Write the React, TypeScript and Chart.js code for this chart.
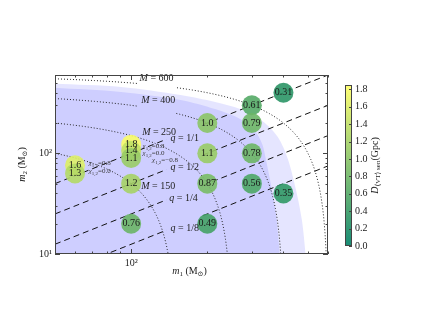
import React, { useEffect, useRef } from "react";
import { Chart, registerables } from "chart.js";

Chart.register(...registerables);

const SERIF = '"Liberation Serif", "DejaVu Serif", serif';

// Simulated systems: primary mass, secondary mass, horizon distance (Gpc)
const pointM1 = [400, 300, 200, 300, 100, 100, 100, 200, 300, 60, 60, 100, 200, 300, 400, 100, 200];
const pointM2 = [400, 300, 200, 200, 122, 106, 90, 100, 100, 76, 63, 50, 50, 50, 40, 20, 20];
const pointDistance = [0.31, 0.61, 1.0, 0.79, 1.8, 1.4, 1.1, 1.1, 0.78, 1.6, 1.3, 1.2, 0.87, 0.56, 0.35, 0.76, 0.49];
const pointLabels = ["0.31", "0.61", "1.0", "0.79", "1.8", "1.4", "1.1", "1.1", "0.78", "1.6", "1.3", "1.2", "0.87", "0.56", "0.35", "0.76", "0.49"];

// Spin annotations
const spinValues = ["0.8", "0.0", "\u22120.8", "0.8", "0.0"];
const spinM1 = [111, 111, 121, 68, 68];
const spinM2 = [117, 100, 85, 79, 66];

// Shaded sensitivity regions (boundaries)
const outerM1 = [50, 91.4, 157, 215, 270, 330, 380, 417, 448, 473, 490];
const outerM2 = [490, 457, 380, 324, 275, 209, 145, 87, 43.7, 21.9, 9.8];
const innerM1 = [50, 91.4, 157, 215, 270, 309, 330, 341, 357, 374, 387];
const innerM2 = [447, 407, 339, 275, 219, 166, 123, 87, 49, 24.5, 9.8];

// Guide curves
const qRatios = [1, 1 / 2, 1 / 4, 1 / 8];
const totalMasses = [600, 400, 250, 150];
const massCurveBroken = [true, true, false, false];
const qGap = [138, 192];
const massGap = [107, 150];

const guideLabelVar = ["M", "M", "M", "M", "q", "q", "q", "q"];
const guideLabelVal = ["600", "400", "250", "150", "1/1", "1/2", "1/4", "1/8"];
const guideLabelM1 = [126, 128, 129, 128, 163, 163, 161, 163];
const guideLabelM2 = [555, 339, 162, 47, 141, 72, 35.5, 17.8];

// Axes
const X_MIN = 50, X_MAX = 600, Y_MIN = 10, Y_MAX = 600;
const CB_MIN = 0, CB_MAX = 1.85;
const colorbarTicks = [0, 0.2, 0.4, 0.6, 0.8, 1.0, 1.2, 1.4, 1.6, 1.8];

function summer(v: number, alpha: number) {
  let t = (v - CB_MIN) / (CB_MAX - CB_MIN);
  t = Math.max(0, Math.min(1, t));
  return `rgba(${Math.round(255 * t)},${Math.round(255 * (0.5 + 0.5 * t))},102,${alpha})`;
}

type Seg = { t: string; italic?: boolean; sub?: boolean };

function drawRich(ctx: CanvasRenderingContext2D, segs: Seg[], x: number, y: number, size: number, align: "left" | "center") {
  const parts = segs.map((s) => {
    const fs = s.sub ? size * 0.7 : size;
    const font = `${s.italic ? "italic " : ""}${fs}px ${SERIF}`;
    ctx.font = font;
    return { s, font, w: ctx.measureText(s.t).width, dy: s.sub ? size * 0.28 : 0 };
  });
  const total = parts.reduce((a, p) => a + p.w, 0);
  let cx = align === "center" ? x - total / 2 : x;
  ctx.textAlign = "left";
  ctx.textBaseline = "middle";
  for (const p of parts) {
    ctx.font = p.font;
    ctx.fillText(p.s.t, cx, y + p.dy);
    cx += p.w;
  }
}

function logTicks(min: number, max: number) {
  const major: number[] = [];
  const minor: number[] = [];
  for (let e = -1; e < 5; e++) {
    const base = Math.pow(10, e);
    for (let k = 1; k < 10; k++) {
      const v = k * base;
      if (v < min - 1e-9 || v > max + 1e-9) continue;
      (k === 1 ? major : minor).push(v);
    }
  }
  return { major, minor };
}

function massCurve(M: number, broken: boolean) {
  const pts: { x: number; y: number | null }[] = [];
  const n = 70;
  const hi = M - 8;
  for (let i = 0; i < n; i++) {
    const m1 = X_MIN * Math.pow(hi / X_MIN, i / (n - 1));
    pts.push({ x: m1, y: M - m1 });
  }
  for (let i = 0; i < n; i++) {
    const m2 = 8 * Math.pow((M - X_MIN) / 8, i / (n - 1));
    pts.push({ x: M - m2, y: m2 });
  }
  pts.sort((a, b) => a.x - b.x);
  if (!broken) return pts;
  const out: { x: number; y: number | null }[] = [];
  let inserted = false;
  for (const p of pts) {
    if (p.x > massGap[0] && p.x < massGap[1]) {
      if (!inserted) {
        out.push({ x: (massGap[0] + massGap[1]) / 2, y: null });
        inserted = true;
      }
      continue;
    }
    out.push(p);
  }
  return out;
}

function qLine(q: number) {
  return [
    { x: X_MIN, y: X_MIN * q },
    { x: qGap[0], y: qGap[0] * q },
    { x: (qGap[0] + qGap[1]) / 2, y: null },
    { x: qGap[1], y: qGap[1] * q },
    { x: X_MAX, y: X_MAX * q },
  ];
}

const overlayPlugin = {
  id: "overlay",
  afterDatasetsDraw(chart: any) {
    const ctx: CanvasRenderingContext2D = chart.ctx;
    const xs = chart.scales.x;
    const ys = chart.scales.y;
    const area = chart.chartArea;

    // circle labels
    const meta = chart.getDatasetMeta(0);
    ctx.save();
    ctx.fillStyle = "#1a1a1a";
    meta.data.forEach((el: any, i: number) => {
      drawRich(ctx, [{ t: pointLabels[i] }], el.x, el.y, 10, "center");
    });

    // spin labels
    ctx.fillStyle = "#333";
    spinValues.forEach((s, i) => {
      const px = xs.getPixelForValue(spinM1[i]);
      const py = ys.getPixelForValue(spinM2[i]);
      drawRich(ctx, [{ t: "\u03c7", italic: true }, { t: "1,2", sub: true }, { t: "=" + s }], px, py, 7, "left");
    });

    // guide labels
    ctx.fillStyle = "#222";
    guideLabelVar.forEach((v, i) => {
      const px = xs.getPixelForValue(guideLabelM1[i]);
      const py = ys.getPixelForValue(guideLabelM2[i]);
      drawRich(ctx, [{ t: v, italic: true }, { t: " = " + guideLabelVal[i] }], px, py, 10, "center");
    });

    // frame
    ctx.strokeStyle = "#444";
    ctx.lineWidth = 1;
    ctx.strokeRect(Math.round(area.left) + 0.5, Math.round(area.top) + 0.5, Math.round(area.right - area.left) - 1, Math.round(area.bottom - area.top) - 1);

    // inward ticks
    const xt = logTicks(X_MIN, X_MAX);
    const yt = logTicks(Y_MIN, Y_MAX);
    ctx.beginPath();
    const addX = (vals: number[], len: number) => {
      vals.forEach((v) => {
        const px = Math.round(xs.getPixelForValue(v)) + 0.5;
        ctx.moveTo(px, area.bottom);
        ctx.lineTo(px, area.bottom - len);
        ctx.moveTo(px, area.top);
        ctx.lineTo(px, area.top + len);
      });
    };
    const addY = (vals: number[], len: number) => {
      vals.forEach((v) => {
        const py = Math.round(ys.getPixelForValue(v)) + 0.5;
        ctx.moveTo(area.left, py);
        ctx.lineTo(area.left + len, py);
        ctx.moveTo(area.right, py);
        ctx.lineTo(area.right - len, py);
      });
    };
    addX(xt.major, 5);
    addX(xt.minor, 2.5);
    addY(yt.major, 5);
    addY(yt.minor, 2.5);
    ctx.stroke();

    // axis titles
    ctx.fillStyle = "#222";
    drawRich(ctx, [{ t: "m", italic: true }, { t: "1", sub: true }, { t: " (M" }, { t: "\u2299", sub: true }, { t: ")" }], (area.left + area.right) / 2 - 2, 271, 10, "center");
    ctx.save();
    ctx.translate(22, (area.top + area.bottom) / 2);
    ctx.rotate(-Math.PI / 2);
    drawRich(ctx, [{ t: "m", italic: true }, { t: "2", sub: true }, { t: " (M" }, { t: "\u2299", sub: true }, { t: ")" }], 0, 0, 10, "center");
    ctx.restore();

    // colorbar
    const cbL = 345, cbW = 7, cbT = 85, cbB = 246;
    const grad = ctx.createLinearGradient(0, cbB, 0, cbT);
    for (let i = 0; i <= 10; i++) {
      const v = CB_MIN + ((CB_MAX - CB_MIN) * i) / 10;
      grad.addColorStop(i / 10, summer(v, 0.9));
    }
    ctx.fillStyle = grad;
    ctx.fillRect(cbL, cbT, cbW, cbB - cbT);
    ctx.strokeStyle = "#444";
    ctx.strokeRect(cbL + 0.5, cbT + 0.5, cbW - 1, cbB - cbT - 1);
    ctx.fillStyle = "#222";
    ctx.beginPath();
    colorbarTicks.forEach((v) => {
      const py = cbB - ((v - CB_MIN) / (CB_MAX - CB_MIN)) * (cbB - cbT);
      const ry = Math.round(py) + 0.5;
      ctx.moveTo(cbL + cbW - 3, ry);
      ctx.lineTo(cbL + cbW, ry);
      drawRich(ctx, [{ t: v.toFixed(1) }], cbL + cbW + 3, py, 10, "left");
    });
    ctx.stroke();
    ctx.save();
    ctx.translate(375, (cbT + cbB) / 2);
    ctx.rotate(-Math.PI / 2);
    drawRich(ctx, [{ t: "D", italic: true }, { t: "\u27e8VT\u27e9 sen", sub: true }, { t: "(Gpc)" }], 0, 0, 10, "center");
    ctx.restore();

    ctx.restore();
  },
};

export default function App() {
  const canvasRef = useRef<HTMLCanvasElement | null>(null);

  useEffect(() => {
    const canvas = canvasRef.current;
    if (!canvas) return;

    const circleData = pointM1.map((m1, i) => ({ x: m1, y: pointM2[i] }));
    const circleColors = pointDistance.map((d) => summer(d, 0.9));

    const lineDatasets: any[] = [];
    qRatios.forEach((q) => {
      lineDatasets.push({
        type: "line",
        data: qLine(q),
        borderColor: "#111",
        borderWidth: 1,
        borderDash: [6, 4],
        pointRadius: 0,
        fill: false,
        tension: 0,
        spanGaps: false,
        order: 1,
      });
    });
    totalMasses.forEach((M, i) => {
      lineDatasets.push({
        type: "line",
        data: massCurve(M, massCurveBroken[i]),
        borderColor: "#222",
        borderWidth: 1,
        borderDash: [1, 2],
        pointRadius: 0,
        fill: false,
        tension: 0,
        spanGaps: false,
        order: 1,
      });
    });

    const chart = new Chart(canvas, {
      type: "scatter",
      data: {
        datasets: [
          {
            type: "scatter",
            data: circleData,
            backgroundColor: circleColors,
            borderWidth: 0,
            pointRadius: 10,
            pointHoverRadius: 10,
            order: 0,
          } as any,
          ...lineDatasets,
          {
            type: "line",
            data: innerM1.map((m, i) => ({ x: m, y: innerM2[i] })),
            borderWidth: 0,
            borderColor: "rgba(0,0,0,0)",
            backgroundColor: "rgba(0,0,255,0.1)",
            pointRadius: 0,
            fill: "start",
            tension: 0.3,
            order: 2,
          },
          {
            type: "line",
            data: outerM1.map((m, i) => ({ x: m, y: outerM2[i] })),
            borderWidth: 0,
            borderColor: "rgba(0,0,0,0)",
            backgroundColor: "rgba(0,0,255,0.1)",
            pointRadius: 0,
            fill: "start",
            tension: 0.3,
            order: 3,
          },
        ],
      },
      options: {
        animation: false,
        responsive: false,
        events: [],
        layout: { padding: { left: 10, top: 75, right: 112, bottom: 56 } },
        plugins: { legend: { display: false }, tooltip: { enabled: false } },
        scales: {
          x: {
            type: "logarithmic",
            min: X_MIN,
            max: X_MAX,
            grid: { display: false, drawTicks: false },
            border: { display: false },
            ticks: {
              autoSkip: false,
              maxRotation: 0,
              padding: 3,
              color: "#222",
              font: { family: SERIF, size: 10 },
              callback: (v: any) => (Math.round(Number(v)) === 100 ? "10\u00b2" : ""),
            },
            afterFit: (s: any) => {
              s.height = 20;
            },
          },
          y: {
            type: "logarithmic",
            min: Y_MIN,
            max: Y_MAX,
            grid: { display: false, drawTicks: false },
            border: { display: false },
            ticks: {
              autoSkip: false,
              padding: 3,
              color: "#222",
              font: { family: SERIF, size: 10 },
              callback: (v: any) => {
                const r = Math.round(Number(v));
                if (r === 10) return "10\u00b9";
                if (r === 100) return "10\u00b2";
                return "";
              },
            },
            afterFit: (s: any) => {
              s.width = 45;
            },
          },
        },
      } as any,
      plugins: [overlayPlugin],
    });

    return () => {
      chart.destroy();
    };
  }, []);

  return (
    <div style={{ position: "fixed", left: 0, top: 0, width: 440, height: 330, background: "#fff" }}>
      <canvas ref={canvasRef} width={440} height={330} style={{ display: "block", width: 440, height: 330 }} />
    </div>
  );
}
